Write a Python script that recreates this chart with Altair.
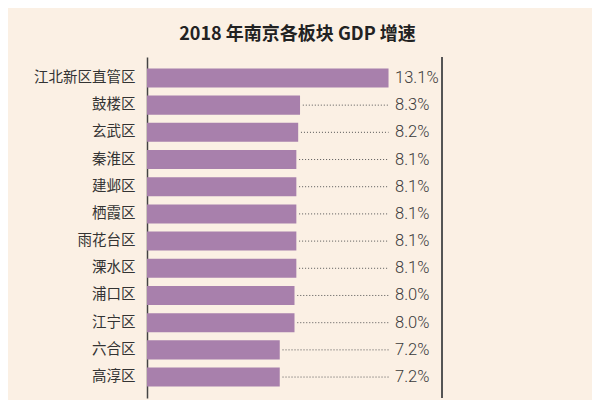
import altair as alt
import pandas as pd

districts = ["江北新区直管区", "鼓楼区", "玄武区", "秦淮区", "建邺区", "栖霞区",
             "雨花台区", "溧水区", "浦口区", "江宁区", "六合区", "高淳区"]
growth = [13.1, 8.3, 8.2, 8.1, 8.1, 8.1, 8.1, 8.1, 8.0, 8.0, 7.2, 7.2]
labels = ["13.1%", "8.3%", "8.2%", "8.1%", "8.1%", "8.1%", "8.1%", "8.1%",
          "8.0%", "8.0%", "7.2%", "7.2%"]

df = pd.DataFrame({"district": districts, "growth": growth, "label": labels})

W, H = 295, 341
xscale = alt.Scale(domain=[0, 16], nice=False, zero=True)
yscale = alt.Scale(domain=districts, paddingInner=0.3, paddingOuter=0.42)

base = alt.Chart(df)

bars = base.mark_bar(color="#A880AC").encode(
    x=alt.X("growth:Q", scale=xscale, axis=None),
    y=alt.Y("district:N", scale=yscale, sort=districts, title=None,
            axis=alt.Axis(domain=True, domainColor="#444", domainWidth=1.5,
                          ticks=False, labelPadding=12, labelFontSize=14.5,
                          labelFont="Noto Sans CJK SC", labelColor="#333",
                          grid=False)),
)

dots = base.transform_filter("datum.growth < 13").transform_calculate(
    start="datum.growth + 0.15", end="13.1"
).mark_rule(color="#555", strokeDash=[1, 2], strokeWidth=1).encode(
    x=alt.X("start:Q", scale=xscale),
    x2="end:Q",
    y=alt.Y("district:N", scale=yscale, sort=districts),
)

texts = base.mark_text(align="left", baseline="middle", fontSize=16.5,
                       font="Roboto", fontWeight=300, color="#3a3a3a").encode(
    x=alt.value(248),
    y=alt.Y("district:N", scale=yscale, sort=districts),
    text="label:N",
)

right_line = base.mark_rule(color="#555", strokeWidth=1.2).encode(
    x=alt.value(W), y=alt.value(0), y2=alt.value(H)
)

chart = alt.layer(bars, dots, texts, right_line).properties(
    width=W, height=H,
    padding={"left": 139, "top": 49, "right": 150, "bottom": 2},
    autosize="none",
    background="#FBF0E4",
    title=alt.TitleParams("2018 年南京各板块 GDP 增速", fontSize=18,
                          font="Noto Sans CJK SC", fontWeight="bold",
                          color="#222", anchor="middle", offset=12, dx=3),
).configure_view(stroke=None)

chart.save("out.html", embed_options={"renderer": "svg", "actions": False})
